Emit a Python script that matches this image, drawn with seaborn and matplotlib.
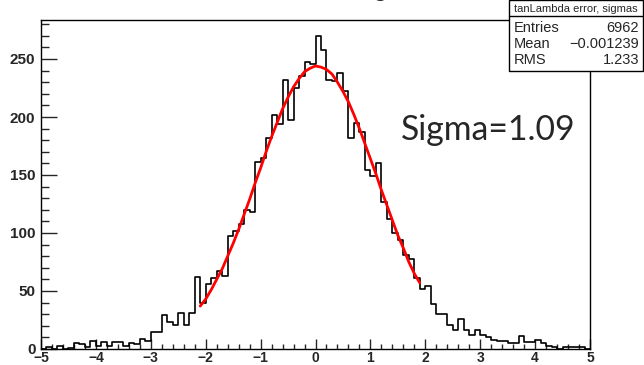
import numpy as np
import pandas as pd
import seaborn as sns
import matplotlib.pyplot as plt
from matplotlib.patches import Rectangle
from matplotlib.lines import Line2D
from matplotlib.ticker import MultipleLocator

# ==========================================
# 1. data (100 bins, -5 .. 5)
# ==========================================
bin_edges = np.linspace(-5, 5, 101)
bin_counts = [
    0, 2, 0, 3, 0, 1, 5, 4, 2, 7,
    3, 6, 3, 6, 6, 3, 5, 4, 9, 7,
    15, 15, 29, 23, 21, 31, 21, 31, 62, 40,
    56, 61, 67, 63, 97, 102, 108, 120, 118, 161,
    165, 182, 202, 194, 232, 197, 225, 235, 247, 246,
    270, 258, 232, 231, 238, 222, 182, 195, 187, 154,
    149, 160, 127, 112, 100, 94, 81, 78, 61, 52,
    54, 39, 30, 30, 21, 16, 26, 16, 12, 16,
    12, 10, 8, 7, 7, 5, 5, 11, 6, 6,
    8, 5, 3, 2, 0, 2, 2, 2, 2, 0,
]

# red fit curve, read every 0.1 from -2.1 to 1.9
fit_x = np.round(np.arange(-2.1, 1.95, 0.1), 2)
fit_y = [
    37, 43, 51, 60, 69, 80, 91, 103, 116, 129,
    143, 156, 170, 183, 195, 207, 217, 226, 233, 239,
    242, 244, 243, 241, 237, 230, 222, 213, 202, 190,
    177, 164, 151, 137, 124, 111, 98, 87, 75, 65,
    57,
]

stats_title = "tanLambda error, sigmas"
stats_rows = [("Entries", "6962"), ("Mean", "\u22120.001239"), ("RMS", "1.233")]
sigma_text = "Sigma=1.09"

df = pd.DataFrame({"x": (bin_edges[:-1] + bin_edges[1:]) / 2, "n": bin_counts})
df_fit = pd.DataFrame({"x": fit_x, "y": fit_y})

# ==========================================
# 2. plot
# ==========================================
sns.set_style("white")
plt.rcParams['font.family'] = ['Liberation Sans', 'DejaVu Sans']
plt.rcParams['axes.unicode_minus'] = True

W, H = 644, 365
fig = plt.figure(figsize=(W / 100, H / 100), dpi=100)
ax = fig.add_axes([41 / W, 16 / H, 549 / W, 329 / H])

sns.histplot(data=df, x="x", weights="n", binwidth=0.1, binrange=(-5, 5),
             element="step", fill=False, color="black", linewidth=1.2, ax=ax)
sns.lineplot(data=df_fit, x="x", y="y", color="red", linewidth=2, ax=ax)

ax.set_xlim(-5, 5)
ax.set_ylim(0, 329 / 1.16)
ax.set_xlabel("")
ax.set_ylabel("")

ax.xaxis.set_major_locator(MultipleLocator(1))
ax.xaxis.set_minor_locator(MultipleLocator(0.2))
ax.yaxis.set_major_locator(MultipleLocator(50))
ax.yaxis.set_minor_locator(MultipleLocator(10))
ax.tick_params(axis="x", which="major", direction="in", length=7.2, width=1,
               pad=1.5, labelsize=10, bottom=True, top=False)
ax.tick_params(axis="x", which="minor", direction="in", length=3.6, width=1,
               bottom=True, top=False)
ax.tick_params(axis="y", which="major", direction="in", length=11.5, width=1,
               pad=4, labelsize=11, left=True, right=False)
ax.tick_params(axis="y", which="minor", direction="in", length=5.8, width=1,
               left=True, right=False)
for lab in ax.get_xticklabels() + ax.get_yticklabels():
    lab.set_fontweight("bold")

for s in ax.spines.values():
    s.set_color("black")
    s.set_linewidth(1)

# title: only the tail of the "g" shows above the frame
fig.text(429 / W, 1 + 3 / H, stats_title, ha="right", va="baseline",
         fontsize=15, fontweight="bold")

# big annotation
fig.text(401 / W, 1 - 140 / H, sigma_text, ha="left", va="baseline",
         fontsize=24.3, family=["Lato", "DejaVu Sans"])

# stats box
bx0, bx1, by0, by1 = 509, 643, 71, 0.5
fig.add_artist(Rectangle((bx0 / W, 1 - by0 / H), (bx1 - bx0) / W, (by0 - by1) / H,
                         transform=fig.transFigure, facecolor="white",
                         edgecolor="black", linewidth=1, zorder=5))
fig.add_artist(Line2D([bx0 / W, bx1 / W], [1 - 16 / H, 1 - 16 / H],
                      transform=fig.transFigure, color="black", linewidth=1, zorder=6))
fig.text((bx0 + bx1) / 2 / W, 1 - 8.5 / H, stats_title, ha="center", va="center",
         fontsize=8, zorder=7)
for i, (k, v) in enumerate(stats_rows):
    yy = 1 - (27.5 + 16 * i) / H
    fig.text(514 / W, yy, k, ha="left", va="center", fontsize=10.5, zorder=7)
    fig.text(639 / W, yy, v, ha="right", va="center", fontsize=10.5, zorder=7)

plt.savefig("out.png", dpi=100)
